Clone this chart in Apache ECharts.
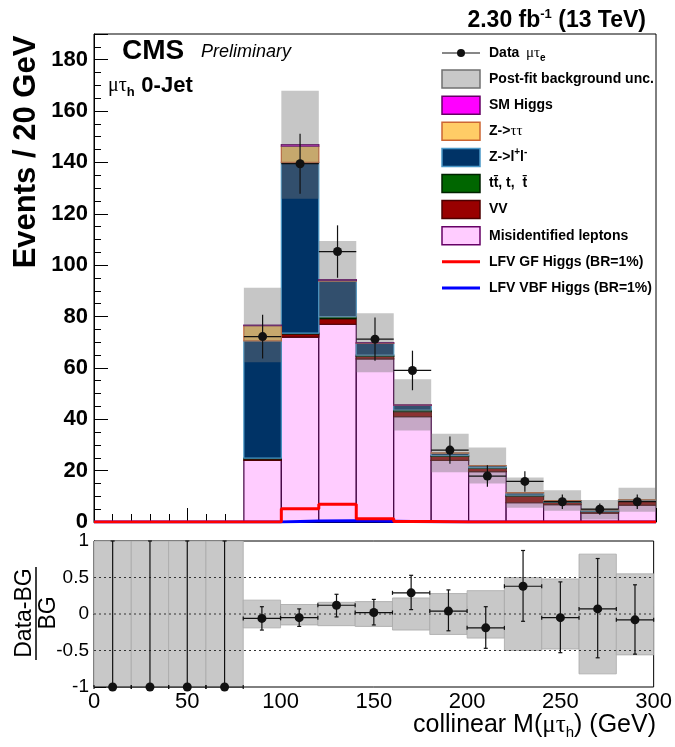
<!DOCTYPE html>
<html>
<head>
<meta charset="utf-8">
<script src="https://cdn.jsdelivr.net/npm/echarts@6/dist/echarts.min.js"></script>
<style>
html, body { margin: 0; padding: 0; background: #fff; }
#main { width: 675px; height: 747px; }
</style>
</head>
<body>
<div id="main"></div>
<script>
// bins of collinear mass, 20 GeV wide
var binLo = [0, 20, 40, 60, 80, 100, 120, 140, 160, 180, 200, 220, 240, 260, 280];
var binWidth = 20;

// background components (events / bin), bottom of stack first
var misid  = [0, 0, 0, 0, 24.0, 72.0, 77.0, 63.5, 41.0, 24.0, 19.6, 7.5, 6.8, 3.4, 6.6];
var vv     = [0, 0, 0, 0, 0.6, 1.2, 2.2, 1.0, 2.0, 1.5, 1.3, 2.6, 0.8, 0.6, 1.4];
var ttbar  = [0, 0, 0, 0, 0.3, 0.3, 0.8, 0.5, 0.6, 0.4, 0.3, 0.4, 0.2, 0.2, 0.2];
var zll    = [0, 0, 0, 0, 45.6, 66.5, 13.8, 4.5, 1.8, 0.9, 0.7, 0.8, 0.5, 0.5, 0.4];
var ztt    = [0, 0, 0, 0, 5.9, 6.3, 0.3, 0.2, 0.1, 0.1, 0.1, 0.1, 0.05, 0.05, 0.05];
var smHiggs = [0, 0, 0, 0, 0.3, 0.6, 0.3, 0.1, 0.1, 0, 0, 0, 0, 0, 0];
var bkgUnc = [0, 0, 0, 0, 14.5, 21.0, 15.0, 11.5, 10.0, 7.5, 7.0, 5.9, 4.0, 3.8, 4.7];

// signals
var lfvGF  = [0, 0, 0, 0, 0, 5.2, 6.9, 1.3, 0.2, 0, 0, 0, 0, 0, 0];
var lfvVBF = [0, 0, 0, 0, 0, 0.4, 0.5, 0.3, 0.1, 0, 0, 0, 0, 0, 0];

// observed data
var dataObs = [0, 0, 0, 0, 72.2, 139.5, 105.3, 71.2, 59.0, 28.0, 17.9, 15.8, 7.9, 5.0, 7.9];
var dataErr = [0, 0, 0, 0, 8.5, 11.7, 10.2, 8.4, 7.7, 5.3, 4.2, 4.0, 2.8, 2.2, 2.8];

// ratio panel (Data-BG)/BG
var ratioVal = [-1, -1, -1, -1, -0.06, -0.05, 0.12, 0.02, 0.29, 0.04, -0.19, 0.38, -0.05, 0.07, -0.08];
var ratioHi  = [1, 1, 1, 1, 0.10, 0.07, 0.27, 0.20, 0.53, 0.33, 0.10, 0.87, 0.44, 0.76, 0.40];
var ratioLo  = [-1, -1, -1, -1, -0.22, -0.17, -0.04, -0.15, 0.06, -0.23, -0.47, -0.10, -0.53, -0.60, -0.55];
var bandHi   = [1, 1, 1, 1, 0.19, 0.13, 0.16, 0.17, 0.22, 0.28, 0.32, 0.50, 0.48, 0.82, 0.55];
var bandLo   = [-1, -1, -1, -1, -0.19, -0.15, -0.16, -0.17, -0.22, -0.28, -0.33, -0.50, -0.48, -0.82, -0.56];
var ratioGuides = [0.5, 0, -0.5];

var stackDefs = [
    { name: 'Misidentified leptons', values: misid, fill: '#ffccff', stroke: '#400040' },
    { name: 'VV', values: vv, fill: '#990000', stroke: '#4d0000' },
    { name: 'tt', values: ttbar, fill: '#006600', stroke: '#002200' },
    { name: 'Z->ll', values: zll, fill: '#003366', stroke: '#4a98c8' },
    { name: 'Z->tautau', values: ztt, fill: '#ffcc66', stroke: '#cc6633' },
    { name: 'SM Higgs', values: smHiggs, fill: '#ff00ff', stroke: '#660066' }
];

var sansFont = 'Liberation Sans, Arial, Helvetica, sans-serif';
var serifFont = 'Liberation Serif, DejaVu Serif, serif';

function binRect(fill, stroke, lw) {
    return function (params, api) {
        var p0 = api.coord([api.value(0), api.value(3)]);
        var p1 = api.coord([api.value(1), api.value(2)]);
        return {
            type: 'rect',
            shape: { x: p0[0], y: p0[1], width: p1[0] - p0[0], height: p1[1] - p0[1] },
            style: { fill: fill, stroke: stroke, lineWidth: lw }
        };
    };
}

function errPoint(caps) {
    return function (params, api) {
        var x = api.value(0), y = api.value(1);
        var c = api.coord([x, y]);
        var t = api.coord([x, api.value(2)]);
        var b = api.coord([x, api.value(3)]);
        var l = api.coord([x - binWidth / 2, y]);
        var r = api.coord([x + binWidth / 2, y]);
        var st = { stroke: '#111', lineWidth: 1.2 };
        var kids = [
            { type: 'line', shape: { x1: c[0], y1: t[1], x2: c[0], y2: b[1] }, style: st },
            { type: 'line', shape: { x1: l[0], y1: c[1], x2: r[0], y2: c[1] }, style: st }
        ];
        if (caps) {
            kids.push({ type: 'line', shape: { x1: c[0] - 2, y1: t[1], x2: c[0] + 2, y2: t[1] }, style: st });
            kids.push({ type: 'line', shape: { x1: c[0] - 2, y1: b[1], x2: c[0] + 2, y2: b[1] }, style: st });
            kids.push({ type: 'line', shape: { x1: l[0], y1: c[1] - 2, x2: l[0], y2: c[1] + 2 }, style: st });
            kids.push({ type: 'line', shape: { x1: r[0], y1: c[1] - 2, x2: r[0], y2: c[1] + 2 }, style: st });
        }
        kids.push({ type: 'circle', shape: { cx: c[0], cy: c[1], r: 4.5 }, style: { fill: '#111' } });
        return { type: 'group', children: kids };
    };
}

// stacked background
var total = binLo.map(function () { return 0; });
var series = [];
stackDefs.forEach(function (d) {
    var items = [];
    d.values.forEach(function (v, i) {
        if (v > 0) items.push([binLo[i], binLo[i] + binWidth, total[i], total[i] + v]);
        total[i] += v;
    });
    series.push({
        type: 'custom', name: d.name, xAxisIndex: 0, yAxisIndex: 0, z: 2, clip: true,
        renderItem: binRect(d.fill, d.stroke, 1.2),
        encode: { x: [0, 1], y: [2, 3] },
        data: items
    });
});

// background uncertainty band
var bandItems = [];
total.forEach(function (t, i) {
    if (t > 0) bandItems.push([binLo[i], binLo[i] + binWidth, t - bkgUnc[i], t + bkgUnc[i]]);
});
series.push({
    type: 'custom', name: 'unc', xAxisIndex: 0, yAxisIndex: 0, z: 3, clip: true,
    renderItem: binRect('rgba(120,120,120,0.42)', 'none', 0),
    encode: { x: [0, 1], y: [2, 3] },
    data: bandItems
});

// signal step lines
function stepData(vals) {
    var pts = vals.map(function (v, i) { return [binLo[i], v]; });
    pts.push([binLo[binLo.length - 1] + binWidth, vals[vals.length - 1]]);
    return pts;
}
series.push({
    type: 'line', name: 'VBF', xAxisIndex: 0, yAxisIndex: 0, z: 4, step: 'end',
    showSymbol: false, lineStyle: { color: '#0000ff', width: 3 }, data: stepData(lfvVBF)
});
series.push({
    type: 'line', name: 'GF', xAxisIndex: 0, yAxisIndex: 0, z: 5, step: 'end',
    showSymbol: false, lineStyle: { color: '#ff0000', width: 3 }, data: stepData(lfvGF)
});

// data points
var dataItems = [];
dataObs.forEach(function (v, i) {
    if (v > 0) dataItems.push([binLo[i] + binWidth / 2, v, v + dataErr[i], v - dataErr[i]]);
});
series.push({
    type: 'custom', name: 'Data', xAxisIndex: 0, yAxisIndex: 0, z: 6,
    renderItem: errPoint(false), encode: { x: 0, y: [1, 2, 3] }, data: dataItems
});

// ratio band
series.push({
    type: 'custom', name: 'ratioBand', xAxisIndex: 1, yAxisIndex: 1, z: 2, clip: true,
    renderItem: binRect('#c8c8c8', '#a8a8a8', 0.8),
    encode: { x: [0, 1], y: [2, 3] },
    data: binLo.map(function (x, i) { return [x, x + binWidth, bandLo[i], bandHi[i]]; })
});
// dotted guide lines
series.push({
    type: 'custom', name: 'guides', xAxisIndex: 1, yAxisIndex: 1, z: 3,
    renderItem: function (params, api) {
        var a = api.coord([0, api.value(0)]);
        var b = api.coord([300, api.value(0)]);
        return { type: 'line', shape: { x1: a[0], y1: a[1], x2: b[0], y2: b[1] },
                 style: { stroke: '#333', lineWidth: 1, lineDash: [2, 3] } };
    },
    encode: { y: 0 },
    data: ratioGuides.map(function (v) { return [v]; })
});
// ratio points
series.push({
    type: 'custom', name: 'ratio', xAxisIndex: 1, yAxisIndex: 1, z: 4,
    renderItem: errPoint(true), encode: { x: 0, y: [1, 2, 3] },
    data: binLo.map(function (x, i) { return [x + binWidth / 2, ratioVal[i], ratioHi[i], ratioLo[i]]; })
});

// legend (drawn by hand, ROOT style)
var legendRows = [
    { text: '{b|Data}  {g|μτ}{s|e}', kind: 'data' },
    { text: '{b|Post-fit background unc.}', kind: 'box', fill: '#c8c8c8', stroke: '#707070' },
    { text: '{b|SM Higgs}', kind: 'box', fill: '#ff00ff', stroke: '#660066' },
    { text: '{b|Z->}{g|ττ}', kind: 'box', fill: '#ffcc66', stroke: '#cc6633' },
    { text: '{b|Z->l}{p|+}{b|l}{p|-}', kind: 'box', fill: '#003366', stroke: '#4a98c8' },
    { text: '{b|tt\u0304, t,  t\u0304}', kind: 'box', fill: '#006600', stroke: '#002200' },
    { text: '{b|VV}', kind: 'box', fill: '#990000', stroke: '#4d0000' },
    { text: '{b|Misidentified leptons}', kind: 'box', fill: '#ffccff', stroke: '#660066' },
    { text: '{b|LFV GF Higgs (BR=1%)}', kind: 'line', color: '#ff0000' },
    { text: '{b|LFV VBF Higgs (BR=1%)}', kind: 'line', color: '#0000ff' }
];
var richStyles = {
    b: { fontFamily: sansFont, fontWeight: 'bold', fontSize: 14, lineHeight: 20, verticalAlign: 'middle' },
    g: { fontFamily: serifFont, fontSize: 15, lineHeight: 20, verticalAlign: 'middle' },
    s: { fontFamily: sansFont, fontWeight: 'bold', fontSize: 10, lineHeight: 10, verticalAlign: 'bottom' },
    p: { fontFamily: sansFont, fontWeight: 'bold', fontSize: 10, lineHeight: 10, verticalAlign: 'top' }
};
var graphics = [];
legendRows.forEach(function (row, i) {
    var y = 53 + i * 26.1;
    if (row.kind === 'box') {
        graphics.push({ type: 'rect', shape: { x: 442, y: y - 9, width: 38, height: 18 },
                        style: { fill: row.fill, stroke: row.stroke, lineWidth: 1.5 } });
    } else if (row.kind === 'line') {
        graphics.push({ type: 'line', shape: { x1: 442, y1: y, x2: 480, y2: y },
                        style: { stroke: row.color, lineWidth: 3 } });
    } else {
        graphics.push({ type: 'line', shape: { x1: 442, y1: y, x2: 480, y2: y },
                        style: { stroke: '#111', lineWidth: 1.2 } });
        graphics.push({ type: 'circle', shape: { cx: 461, cy: y, r: 4 }, style: { fill: '#111' } });
    }
    graphics.push({ type: 'text', x: 489, y: y,
                    style: { text: row.text, rich: richStyles, align: 'left', verticalAlign: 'middle' } });
});

// labels
graphics.push({ type: 'text', x: 646, y: 21, style: {
    text: '{t|2.30 fb}{u|-1}{t| (13 TeV)}', align: 'right', verticalAlign: 'middle',
    rich: {
        t: { fontFamily: sansFont, fontWeight: 'bold', fontSize: 23, lineHeight: 26, verticalAlign: 'middle' },
        u: { fontFamily: sansFont, fontWeight: 'bold', fontSize: 13, lineHeight: 13, verticalAlign: 'top' }
    } } });
graphics.push({ type: 'text', x: 122, y: 51, style: {
    text: 'CMS', font: 'bold 28px ' + sansFont, fill: '#000', align: 'left', verticalAlign: 'middle' } });
graphics.push({ type: 'text', x: 201, y: 52, style: {
    text: 'Preliminary', font: 'italic 18px ' + sansFont, fill: '#000', align: 'left', verticalAlign: 'middle' } });
graphics.push({ type: 'text', x: 108, y: 86, style: {
    text: '{g|μτ}{s|h}  {b|0-Jet}', align: 'left', verticalAlign: 'middle',
    rich: {
        g: { fontFamily: serifFont, fontSize: 20, lineHeight: 26, verticalAlign: 'middle' },
        s: { fontFamily: sansFont, fontWeight: 'bold', fontSize: 13, lineHeight: 13, verticalAlign: 'bottom' },
        b: { fontFamily: sansFont, fontWeight: 'bold', fontSize: 22, lineHeight: 26, verticalAlign: 'middle' }
    } } });
graphics.push({ type: 'text', x: 26, y: 152, rotation: Math.PI / 2, style: {
    text: 'Events / 20 GeV', font: 'bold 31px ' + sansFont, fill: '#000', align: 'center', verticalAlign: 'middle' } });
graphics.push({ type: 'text', x: 25, y: 613, rotation: Math.PI / 2, style: {
    text: 'Data-BG', font: '23px ' + sansFont, fill: '#000', align: 'center', verticalAlign: 'middle' } });
graphics.push({ type: 'line', shape: { x1: 36, y1: 567, x2: 36, y2: 660 }, style: { stroke: '#000', lineWidth: 1.5 } });
graphics.push({ type: 'text', x: 49, y: 613, rotation: Math.PI / 2, style: {
    text: 'BG', font: '23px ' + sansFont, fill: '#000', align: 'center', verticalAlign: 'middle' } });
graphics.push({ type: 'text', x: 656, y: 725, style: {
    text: '{n|collinear M(}{g|μτ}{s|h}{n|) (GeV)}', align: 'right', verticalAlign: 'middle',
    rich: {
        n: { fontFamily: sansFont, fontSize: 25, lineHeight: 30, verticalAlign: 'middle' },
        g: { fontFamily: serifFont, fontSize: 25, lineHeight: 30, verticalAlign: 'middle' },
        s: { fontFamily: sansFont, fontSize: 15, lineHeight: 15, verticalAlign: 'bottom' }
    } } });

var tickLine = { color: '#000', width: 1 };
var option = {
    animation: false,
    backgroundColor: '#fff',
    grid: [
        { left: 94, right: 19, top: 34, height: 488, show: true, borderColor: '#000', borderWidth: 1 },
        { left: 94, right: 19, top: 541, height: 146, show: true, borderColor: '#000', borderWidth: 1 }
    ],
    xAxis: [{
        gridIndex: 0, type: 'value', min: 0, max: 300, interval: 50,
        axisLine: { lineStyle: tickLine },
        axisTick: { inside: true, length: 14, lineStyle: tickLine },
        minorTick: { show: true, splitNumber: 5, length: 8, lineStyle: tickLine },
        axisLabel: { show: false },
        splitLine: { show: false }
    }, {
        gridIndex: 1, type: 'value', min: 0, max: 300, interval: 50,
        axisLine: { lineStyle: tickLine },
        axisTick: { inside: true, length: 8, lineStyle: tickLine },
        minorTick: { show: true, splitNumber: 5, length: 4, lineStyle: tickLine },
        axisLabel: { fontFamily: sansFont, fontSize: 22, color: '#000', margin: 4 },
        splitLine: { show: false }
    }],
    yAxis: [{
        gridIndex: 0, type: 'value', min: 0, max: 190, interval: 20,
        axisLine: { lineStyle: tickLine },
        axisTick: { inside: true, length: 14, lineStyle: tickLine },
        minorTick: { show: true, splitNumber: 4, length: 7, lineStyle: tickLine },
        axisLabel: { fontFamily: sansFont, fontWeight: 'bold', fontSize: 22, color: '#000', margin: 6, showMaxLabel: false },
        splitLine: { show: false }
    }, {
        gridIndex: 1, type: 'value', min: -1, max: 1, interval: 0.5,
        axisLine: { lineStyle: tickLine },
        axisTick: { inside: true, length: 12, lineStyle: tickLine },
        minorTick: { show: true, splitNumber: 5, length: 7, lineStyle: tickLine },
        axisLabel: { fontFamily: sansFont, fontSize: 19, color: '#000', margin: 5 },
        splitLine: { show: false }
    }],
    graphic: graphics,
    series: series
};

var chart = echarts.init(document.getElementById('main'));
chart.setOption(option);
window.addEventListener('resize', function () { chart.resize(); });
</script>
</body>
</html>
